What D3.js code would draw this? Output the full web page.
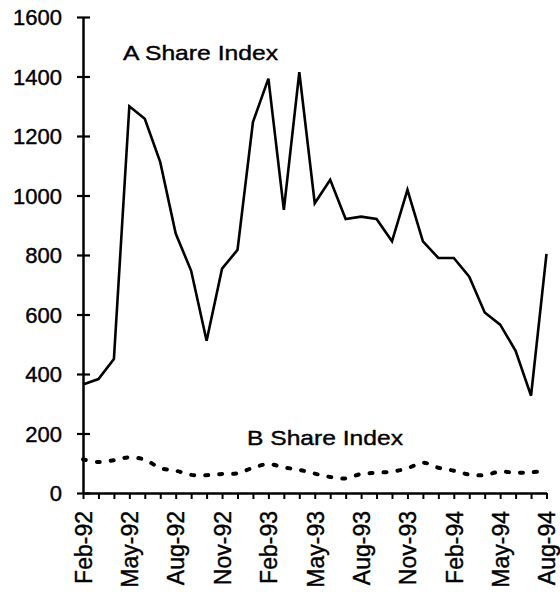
<!DOCTYPE html>
<html>
<head>
<meta charset="utf-8">
<script src="https://cdn.jsdelivr.net/npm/d3@7"></script>
<style>
  html, body { margin: 0; padding: 0; background: #fff; }
  text { font-family: "Liberation Sans", Arial, sans-serif; fill: #000; stroke: #000; stroke-width: 0.4px; }
</style>
</head>
<body>
<svg id="chart" width="560" height="592"></svg>
<script>
// months Feb-92 .. Aug-94
const months = ["Feb-92","Mar-92","Apr-92","May-92","Jun-92","Jul-92","Aug-92","Sep-92","Oct-92","Nov-92","Dec-92",
  "Jan-93","Feb-93","Mar-93","Apr-93","May-93","Jun-93","Jul-93","Aug-93","Sep-93","Oct-93","Nov-93","Dec-93",
  "Jan-94","Feb-94","Mar-94","Apr-94","May-94","Jun-94","Jul-94","Aug-94"];

const aShare = [365, 383, 450, 1300, 1258, 1112, 872, 747, 512, 754, 817,
  1247, 1393, 952, 1415, 974, 1053, 921, 929, 921, 846, 1019, 846,
  790, 790, 727, 607, 566, 478, 327, 804];

const bShare = [113, 104, 110, 120, 112, 84, 75, 61, 60, 64, 66,
  85, 97, 86, 78, 65, 54, 49, 64, 68, 72, 83, 102,
  85, 75, 62, 60, 72, 68, 70, 74];

const yTicks = [0, 200, 400, 600, 800, 1000, 1200, 1400, 1600];
const xLabels = months.filter((d, i) => i % 3 === 0);

const svg = d3.select("#chart");
const margin = { top: 17, left: 83 };
const innerWidth = 463.5;
const innerHeight = 476;

const g = svg.append("g").attr("transform", `translate(${margin.left},${margin.top})`);

const x = d3.scalePoint().domain(months).range([0, innerWidth]).padding(0);
const y = d3.scaleLinear().domain([0, 1600]).range([innerHeight, 0]);

// y axis, ticks cross the axis line
const yAxis = g.append("g")
    .call(d3.axisLeft(y).tickValues(yTicks).tickSize(6).tickPadding(15).tickSizeOuter(0)
        .tickFormat(d3.format("d")));
yAxis.select(".domain").attr("stroke", "#000").attr("stroke-width", 2.5);
yAxis.selectAll(".tick line").attr("x1", 7).attr("x2", -6).attr("stroke-width", 2.2);
yAxis.selectAll(".tick text").style("font-size", "22px").attr("dy", "0.36em");

// x axis
const xAxis = g.append("g")
    .attr("transform", `translate(0,${innerHeight})`)
    .call(d3.axisBottom(x).tickSize(6).tickSizeOuter(0)
        .tickFormat(d => xLabels.includes(d) ? d : ""));
xAxis.select(".domain").attr("stroke", "#000").attr("stroke-width", 2.5);
xAxis.selectAll(".tick line").attr("stroke-width", 2);
xAxis.selectAll(".tick text")
    .style("font-size", "23px")
    .attr("text-anchor", "end")
    .attr("transform", "rotate(-90)")
    .attr("x", -18)
    .attr("y", 0)
    .attr("dy", "0.36em");

// A Share Index
const lineA = d3.line().x(d => x(d.m)).y(d => y(d.v));
g.append("path")
    .datum(months.map((m, i) => ({ m, v: aShare[i] })))
    .attr("fill", "none")
    .attr("stroke", "#000")
    .attr("stroke-width", 2.6)
    .attr("d", lineA);

// B Share Index (dotted, smooth)
const lineB = d3.line().x(d => x(d.m)).y(d => y(d.v)).curve(d3.curveCatmullRom);
g.append("path")
    .datum(months.map((m, i) => ({ m, v: bShare[i] })))
    .attr("fill", "none")
    .attr("stroke", "#000")
    .attr("stroke-width", 4)
    .attr("stroke-linecap", "round")
    .attr("stroke-dasharray", "3,11")
    .attr("d", lineB);

// labels
svg.append("text")
    .attr("x", 123)
    .attr("y", 60)
    .attr("textLength", 155)
    .attr("lengthAdjust", "spacingAndGlyphs")
    .style("font-size", "21px")
    .text("A Share Index");

svg.append("text")
    .attr("x", 247)
    .attr("y", 445)
    .attr("textLength", 156)
    .attr("lengthAdjust", "spacingAndGlyphs")
    .style("font-size", "21px")
    .text("B Share Index");
</script>
</body>
</html>
